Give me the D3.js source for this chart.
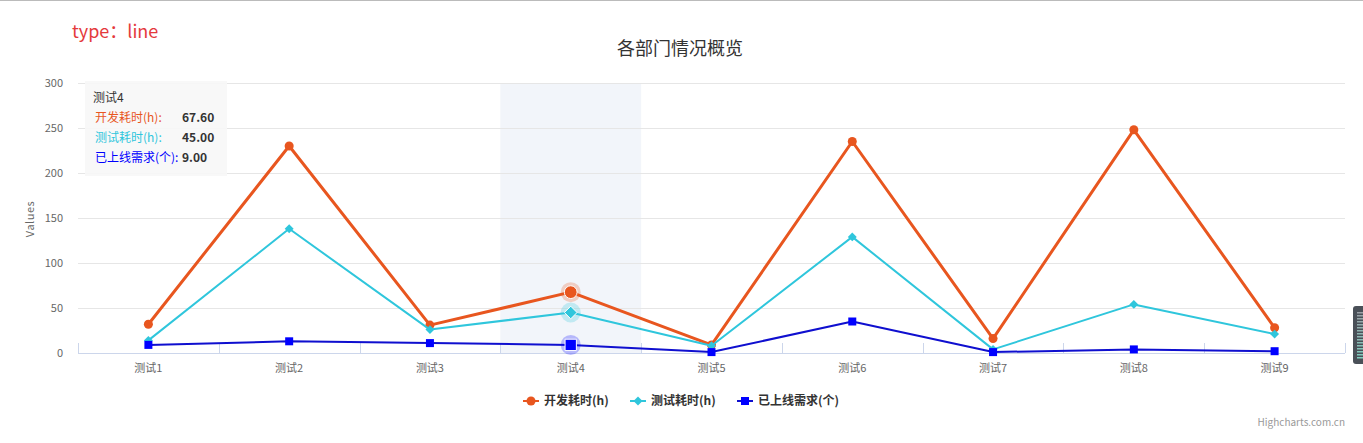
<!DOCTYPE html>
<html lang="zh">
<head>
<meta charset="utf-8">
<script src="https://d3js.org/d3.v7.min.js"></script>
<style>
  body { margin: 0; border-top: 1px solid #bbb; font-family: "Microsoft YaHei", "Noto Sans CJK SC", "Noto Sans", sans-serif; }
  .type { position: absolute; left: 72px; top: 17px; color: #e4393c; font-size: 18px; font-family: "Noto Sans CJK SC", sans-serif; }
</style>
</head>
<body>
<div class="type">type：line</div>
<svg id="chart"></svg>
<script>
const width = 1363, height = 442;

const categories = ["测试1", "测试2", "测试3", "测试4", "测试5", "测试6", "测试7", "测试8", "测试9"];
const devHours = [32, 230, 31, 67.6, 9, 235, 16, 248, 28];
const testHours = [14, 138, 26, 45, 8, 129, 4, 54, 21];
const released = [9, 13, 11, 9, 1, 35, 1, 4, 2];
const yTicks = [0, 50, 100, 150, 200, 250, 300];

// highcharts-like diamond: square turned 45 degrees
const diamond = {
  draw(ctx, size) {
    const r = Math.sqrt(size / 2);
    ctx.moveTo(0, -r); ctx.lineTo(r, 0); ctx.lineTo(0, r); ctx.lineTo(-r, 0); ctx.closePath();
  }
};

const series = [
  { name: "开发耗时(h)", data: devHours, color: "#e8561f", lineColor: "#e8561f", width: 3, symbol: d3.symbolCircle, size: 64 },
  { name: "测试耗时(h)", data: testHours, color: "#2fc6dc", lineColor: "#2fc6dc", width: 2, symbol: diamond, size: 40 },
  { name: "已上线需求(个)", data: released, color: "#0000ff", lineColor: "#0f0fcf", width: 2, symbol: d3.symbolSquare, size: 64 }
];
const hoverIndex = 3;

const margin = { left: 78, right: 18, top: 82, bottom: 90 };
const svg = d3.select("#chart").attr("width", width).attr("height", height).style("display", "block");

const x = d3.scaleBand().domain(categories).range([margin.left, width - margin.right]);
const y = d3.scaleLinear().domain([0, 300]).range([352, 82]);
const cx = c => x(c) + x.bandwidth() / 2;

// title
svg.append("text").attr("x", 680).attr("y", 54).attr("text-anchor", "middle")
  .style("font-size", "18px").style("fill", "#333").text("各部门情况概览");

// hover band
svg.append("rect").attr("x", x(categories[hoverIndex])).attr("y", 82)
  .attr("width", x.bandwidth()).attr("height", 270).attr("fill", "rgba(204,214,235,0.25)");

// grid
svg.append("g").selectAll("line").data(yTicks.filter(d => d > 0)).join("line")
  .attr("x1", margin.left).attr("x2", width - margin.right)
  .attr("y1", d => Math.round(y(d)) + 0.5).attr("y2", d => Math.round(y(d)) + 0.5)
  .attr("stroke", "#e6e6e6");

// y labels
svg.append("g").selectAll("text").data(yTicks).join("text")
  .attr("x", 63).attr("y", d => y(d) + 4).attr("text-anchor", "end")
  .style("font-size", "11px").style("fill", "#666").text(d => d);

svg.append("text").attr("transform", "translate(34,218) rotate(-90)").attr("text-anchor", "middle")
  .style("font-size", "11px").style("letter-spacing", "0.5px").style("fill", "#666").text("Values");

// x axis
svg.append("line").attr("x1", margin.left).attr("x2", width - margin.right)
  .attr("y1", 352.5).attr("y2", 352.5).attr("stroke", "#ccd6eb");
const bounds = categories.map(c => x(c)).concat([width - margin.right]);
svg.append("g").selectAll("line").data(bounds).join("line")
  .attr("x1", d => Math.round(d) + 0.5).attr("x2", d => Math.round(d) + 0.5)
  .attr("y1", 342).attr("y2", 352).attr("stroke", "#ccd6eb");
svg.append("g").selectAll("text").data(categories).join("text")
  .attr("x", d => cx(d)).attr("y", 371).attr("text-anchor", "middle")
  .style("font-size", "11px").style("fill", "#666").text(d => d);

// lines
const line = d3.line().x((d, i) => cx(categories[i])).y(d => y(d));
series.forEach(s => {
  const g = svg.append("g");
  g.append("path").datum(s.data).attr("d", line).attr("fill", "none")
    .attr("stroke", s.lineColor).attr("stroke-width", s.width).attr("stroke-linejoin", "round");
  // halo
  g.append("circle").attr("cx", cx(categories[hoverIndex])).attr("cy", y(s.data[hoverIndex]))
    .attr("r", 10).attr("fill", s.color).attr("opacity", 0.25);
  g.selectAll(".pt").data(s.data).join("path").attr("class", "pt")
    .attr("transform", (d, i) => `translate(${cx(categories[i])},${y(d)})`)
    .attr("d", (d, i) => d3.symbol().type(s.symbol).size(i === hoverIndex ? s.size * 2 : s.size)())
    .attr("fill", s.color)
    .attr("stroke", (d, i) => i === hoverIndex ? "#fff" : "none").attr("stroke-width", 1);
});

// tooltip
const tip = svg.append("g").attr("transform", "translate(85,80)");
tip.append("rect").attr("width", 142).attr("height", 95).attr("fill", "rgba(247,247,247,0.9)");
tip.append("text").attr("x", 8).attr("y", 21).style("font-size", "12px").style("fill", "#333").text(categories[hoverIndex]);
series.forEach((s, i) => {
  tip.append("text").attr("x", 10).attr("y", 41 + i * 20).style("font-size", "12px").style("fill", s.color).text(s.name + ":");
  tip.append("text").attr("x", i === 2 ? 97 : 97).attr("y", 41 + i * 20)
    .style("font-size", "12px").style("font-weight", "bold").style("fill", "#333")
    .text(s.data[hoverIndex].toFixed(2));
});

// legend
const legendX = [523, 630, 737];
series.forEach((s, i) => {
  const g = svg.append("g").attr("transform", `translate(${legendX[i]},400)`);
  g.append("line").attr("x1", 0).attr("x2", 16).attr("stroke", s.lineColor).attr("stroke-width", 2);
  g.append("path").attr("transform", "translate(8,0)").attr("d", d3.symbol().type(s.symbol).size(s.size)()).attr("fill", s.color);
  g.append("text").attr("x", 21).attr("y", 4).style("font-size", "12px").style("font-weight", "bold").style("fill", "#333").text(s.name);
});

// credits
svg.append("text").attr("x", 1345).attr("y", 425).attr("text-anchor", "end")
  .style("font-size", "10px").style("fill", "#999").text("Highcharts.com.cn");

// side widget
const w = svg.append("g").attr("transform", "translate(1353,305)");
w.append("rect").attr("width", 14).attr("height", 58).attr("rx", 3).attr("fill", "#4a5058");
const stripes = d3.range(4, 52, 3);
w.selectAll(".s").data(stripes).join("rect").attr("class", "s")
  .attr("x", 4).attr("y", d => d + 2).attr("width", 6).attr("height", 1.5)
  .attr("fill", (d, i) => d3.interpolateRgb("#9aa0a6", "#7fd0c0")(i / stripes.length));
</script>
</body>
</html>
